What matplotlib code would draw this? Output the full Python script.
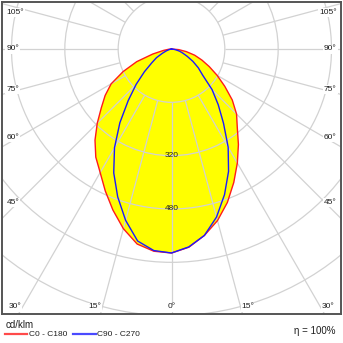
import numpy as np
import matplotlib
matplotlib.use("Agg")
import matplotlib.pyplot as plt
from matplotlib.patches import Circle, Polygon

# ---------------- data (cd/klm) ----------------
gamma = [0, 5, 10, 15, 20, 25, 30, 35, 40, 45, 50, 55, 60, 65, 70, 75, 80, 85, 90]
c0   = [612, 597, 568, 533, 490, 442, 395, 350, 307, 276, 238, 195, 158, 125, 97, 72, 45, 22, 0]
c180 = [612, 609, 594, 558, 514, 470, 428, 396, 357, 315, 275, 243, 209, 160, 111, 58, 24, 8, 0]
c90  = [612, 596, 568, 522, 465, 405, 340, 272, 218, 172, 122, 98, 74, 52, 36, 25, 12, 4, 0]
c270 = [612, 607, 585, 532, 472, 410, 342, 270, 202, 150, 106, 72, 52, 30, 17, 8, 3, 0, 0]
ring_values = [160, 320, 480, 640, 800, 960, 1120]
ring_labels = [320, 480]
angle_ticks = [0, 15, 30, 45, 60, 75, 90, 105]
series_names = ["C0 - C180", "C90 - C270"]
unit_text = "cd/klm"
eta_text = "\u03b7 = 100%"

# ---------------- layout ----------------
W = H = 343
DPI = 100
S = 3.0                      # cd/klm per pixel
cx, cy = 171.5, 49.0         # luminaire position (px, y down)
bx0, by0, bx1, by1 = 2, 2, 341, 314   # frame in px

fig = plt.figure(figsize=(W / DPI, H / DPI), dpi=DPI)
fig.patch.set_facecolor("white")
ax = fig.add_axes([bx0 / W, 1 - by1 / H, (bx1 - bx0) / W, (by1 - by0) / H])
ax.set_xlim((bx0 - cx) * S, (bx1 - cx) * S)
ax.set_ylim((cy - by1) * S, (cy - by0) * S)
ax.set_xticks([]); ax.set_yticks([])
for sp in ax.spines.values():
    sp.set_color("#555555")
    sp.set_linewidth(1.4)
    sp.set_zorder(20)

def px2d(x, y):
    return (x - cx) * S, (cy - y) * S

FONT = ["Liberation Sans", "DejaVu Sans"]
GRID = "#d2d2d2"
TXT = "#1e1e1e"

def curve(left, right):
    g = np.radians(gamma)
    L = np.asarray(left, float)
    R = np.asarray(right, float)
    xl = -L * np.sin(g); yl = -L * np.cos(g)
    xr = R * np.sin(g); yr = -R * np.cos(g)
    x = np.concatenate([xl[::-1], xr[1:]])
    y = np.concatenate([yl[::-1], yr[1:]])
    return x, y

xr_, yr_ = curve(c180, c0)
xb_, yb_ = curve(c270, c90)

# fill
ax.add_patch(Polygon(np.column_stack([xb_, yb_]), closed=True, facecolor="#ffff00", edgecolor="none", zorder=1))
ax.add_patch(Polygon(np.column_stack([xr_, yr_]), closed=True, facecolor="#ffff00", edgecolor="none", zorder=1))

# grid rings
for rv in ring_values:
    ax.add_patch(Circle((0, 0), rv, fill=False, edgecolor=GRID, linewidth=0.9, zorder=2))
# radial lines
for a in range(0, 360, 15):
    t = np.radians(a)
    r0, r1 = ring_values[0], ring_values[-1] * 1.5
    ax.plot([r0 * np.sin(t), r1 * np.sin(t)], [-r0 * np.cos(t), -r1 * np.cos(t)],
            color=GRID, linewidth=0.9, zorder=2, solid_capstyle="butt")

# curves
ax.plot(xr_, yr_, color="#ff1a1a", linewidth=1.0, zorder=5)
ax.plot(xb_, yb_, color="#1a1aff", linewidth=1.0, zorder=6)

# ring labels
for rv in ring_labels:
    ax.text(0, -rv, str(rv), ha="center", va="center", fontsize=6.0, family=FONT,
            color="#222222", zorder=8)

# angle labels
lab_l, lab_r, lab_b, lab_t = 12.5, 330.5, 307.0, 12.0
for a in angle_ticks:
    t = np.radians(a)
    for s in (-1, 1):
        if a == 0 and s == 1:
            continue
        dx, dy = s * np.sin(t), np.cos(t)   # px direction (y down)
        cand = []
        if abs(dx) > 1e-9:
            xe = lab_l if s < 0 else lab_r
            tt = (xe - cx) / dx
            if tt > 0:
                cand.append((tt, "side"))
        if dy > 1e-9:
            tt = (lab_b - cy) / dy
            cand.append((tt, "bottom"))
        tt, where = min(cand)
        if where == "side":
            xe = lab_l if s < 0 else lab_r
            xs = xe - s * 6.0
            ys = cy + (xs - cx) / dx * dy if abs(dx) > 1e-9 else cy
            ys = max(ys, lab_t)
            x_txt = (bx0 + 4.5) if s < 0 else (bx1 - 4.5)
            ha = "left" if s < 0 else "right"
            px, py = x_txt, ys
        else:
            px = cx + tt * dx + (s * 7.5 if a > 0 else 0)
            py = lab_b
            ha = "center"
        X, Y = px2d(px, py)
        ax.text(X, Y, f"{a}\u00b0", ha=ha, va="center", fontsize=6.0, family=FONT, color=TXT,
                zorder=9, bbox=dict(boxstyle="square,pad=0.12", facecolor="white", edgecolor="none"))

# bottom texts
fig.text(6 / W, 1 - 325 / H, unit_text, ha="left", va="center", fontsize=7.0, family=FONT, color=TXT)
fig.text(336 / W, 1 - 331.5 / H, eta_text, ha="right", va="center", fontsize=7.0, family=FONT, color=TXT)

# legend
yl = 1 - 334 / H
fig.add_artist(plt.Line2D([5 / W, 27 / W], [yl, yl], color="#ff4a4a", linewidth=1.6))
fig.text(29 / W, yl, series_names[0], ha="left", va="center", fontsize=6.0, family=FONT, color=TXT)
fig.add_artist(plt.Line2D([73 / W, 96 / W], [yl, yl], color="#4a4aff", linewidth=1.6))
fig.text(97 / W, yl, series_names[1], ha="left", va="center", fontsize=6.0, family=FONT, color=TXT)

fig.savefig("out.png", dpi=DPI, facecolor="white")
